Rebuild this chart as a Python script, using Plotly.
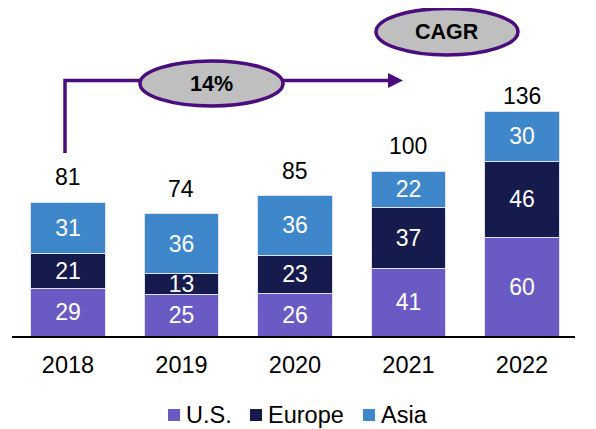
import plotly.graph_objects as go

# data
years = ["2018", "2019", "2020", "2021", "2022"]
us = [29, 25, 26, 41, 60]
europe = [21, 13, 23, 37, 46]
asia = [31, 36, 36, 22, 30]
totals = [81, 74, 85, 100, 136]
cagr_label = "14%"

FONT = "Liberation Sans, Arial, sans-serif"
PURPLE = "#4B0C7D"
OFF = 8  # the page body adds an 8px margin around the plot div
W, H = 596 - OFF, 429 - OFF
L, R, B = 4, 21, 93  # plot area: screen x 12..575, y 8..336
PH = H - B


def px(x):
    """screen x (px) -> paper"""
    return (x - OFF - L) / (W - L - R)


def py(y):
    """screen y (px) -> paper"""
    return (PH - (y - OFF)) / PH


series = [("U.S.", us, "#6A5AC4"), ("Europe", europe, "#161B4D"), ("Asia", asia, "#3E87CA")]

fig = go.Figure()
for name, vals, color in series:
    fig.add_trace(go.Bar(
        x=years, y=vals, name=name, width=0.66, showlegend=False,
        marker=dict(color=color, line=dict(color="#DCE3F2", width=1)),
        texttemplate="%{y}", textposition="inside", insidetextanchor="middle",
        textangle=0, textfont=dict(color="white", size=23, family=FONT),
    ))

# totals above the bars (the 2022 one sits lower, under the arrow)
for i, tot in enumerate(totals):
    fig.add_annotation(x=i, y=tot, text=str(tot), showarrow=False, yanchor="middle",
                       yshift=16 if i == len(totals) - 1 else 25,
                       font=dict(size=23, color="black", family=FONT))

# CAGR bracket, arrow and bubbles
shapes = [
    dict(type="path", path=f"M {px(65)},{py(153)} L {px(65)},{py(80.5)} L {px(392)},{py(80.5)}",
         line=dict(color=PURPLE, width=3.5)),
    dict(type="path", fillcolor=PURPLE, line=dict(width=0),
         path=f"M {px(388)},{py(73)} L {px(403)},{py(80.5)} L {px(388)},{py(88)} Z"),
    dict(type="circle", x0=px(140), x1=px(283), y0=py(61), y1=py(106),
         fillcolor="#BFBFBF", line=dict(color=PURPLE, width=3.5)),
    dict(type="circle", x0=px(376), x1=px(518), y0=py(8.5), y1=py(55),
         fillcolor="#BFBFBF", line=dict(color=PURPLE, width=3.5)),
]
for s in shapes:
    fig.add_shape(layer="above", xref="paper", yref="paper", **s)

for label, cx, cy in [(cagr_label, 211.5, 84), ("CAGR", 447, 32)]:
    fig.add_annotation(xref="paper", yref="paper", x=px(cx), y=py(cy), text=f"<b>{label}</b>",
                       xanchor="center", yanchor="middle", showarrow=False,
                       font=dict(size=21.5, color="black", family=FONT))

# legend drawn by hand: small square + label
for (name, _, color), sq_x in zip(series, [168, 250, 363]):
    fig.add_shape(type="rect", xref="paper", yref="paper", x0=px(sq_x), x1=px(sq_x + 12),
                  y0=py(409), y1=py(421), fillcolor=color, line=dict(width=0))
    fig.add_annotation(xref="paper", yref="paper", x=px(sq_x + 16), y=py(415), text=name,
                       xanchor="left", yanchor="middle", showarrow=False,
                       font=dict(size=23.5, color="black", family=FONT))

fig.update_layout(
    width=W, height=H, barmode="stack",
    margin=dict(l=L, r=R, t=0, b=B),
    paper_bgcolor="white", plot_bgcolor="white",
    font=dict(family=FONT, size=23, color="black"),
    uniformtext=dict(minsize=23, mode="show"),
    showlegend=False,
    xaxis=dict(type="category", range=[-0.493, 4.467], showline=True, linecolor="black",
               linewidth=1.5, showgrid=False, ticks="outside", ticklen=7, tickcolor="rgba(0,0,0,0)",
               tickfont=dict(size=23.5, family=FONT)),
    yaxis=dict(visible=False, range=[0, PH / 1.65]),
)

fig.write_html("out.html")
